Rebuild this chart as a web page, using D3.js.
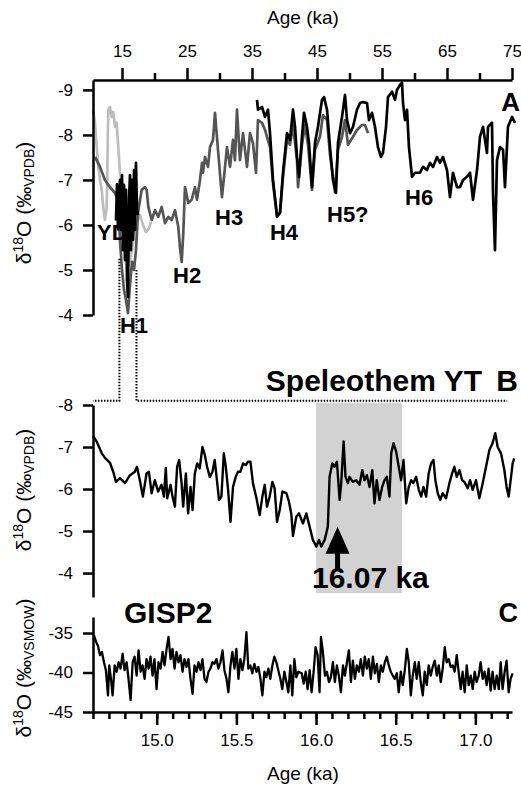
<!DOCTYPE html>
<html>
<head>
<meta charset="utf-8">
<script src="https://cdn.jsdelivr.net/npm/d3@7"></script>
<style>
  body { margin: 0; background: #fff; }
  svg { display: block; font-family: "Liberation Sans", Arial, Helvetica, sans-serif; }
  .axis path, .axis line { stroke: #000; stroke-width: 2.5; }
  .axis text { font-size: 17px; fill: #000; font-family: "Liberation Sans", Arial, sans-serif; }
  .lbl { font-weight: bold; fill: #000; }
</style>
</head>
<body>
<div id="chart"></div>
<script>
// ---- Panel A: long records (age in ka, d18O permil VPDB)
const lightAge = [10.54, 10.85, 11.11, 11.35, 11.62, 11.88, 12.12, 12.38, 12.65, 12.8,
                  12.89, 13.15, 13.42, 13.66, 13.92, 14.18, 14.43, 14.69, 14.95, 15.31,
                  15.62, 15.92, 16.23, 16.54, 16.85, 17.31, 17.77, 18.23, 18.69, 19.15, 19.46];
const lightD18O = [-8.56, -8.27, -7.73, -7.29, -7.0, -6.78, -6.4, -6.11, -6.4, -7.73,
                   -8.56, -8.62, -8.4, -8.51, -8.18, -8.27, -7.73, -7.16, -7.0, -6.56,
                   -6.0, -5.56, -5.18, -5.44, -5.78, -6.07, -6.22, -6.0, -5.84, -5.93, -6.07];

const darkAge = [10.85, 11.62, 12.38, 13.15, 13.92, 14.38, 14.69, 15.0, 15.31, 15.62,
                 15.92, 16.23, 16.54, 16.85, 17.15, 17.46, 18.03, 18.54, 18.8, 19.05,
                 19.57, 20.08, 20.58, 21.11, 21.62, 22.12, 22.65, 23.15, 23.66, 23.92,
                 24.18, 24.43, 24.69, 25.2, 25.72, 26.23, 26.54, 27.0, 27.31, 27.46,
                 27.77, 28.23, 28.54, 29.0, 29.31, 29.77, 30.38, 30.85, 31.15, 31.62,
                 32.08, 32.38, 32.69, 33.15, 33.62, 34.23, 34.69, 35.15, 35.62, 35.92,
                 36.54, 37.0, 37.77, 38.23, 38.85, 39.31, 39.77, 40.38, 40.85, 41.31,
                 41.92, 42.08, 42.69, 43.15, 43.62, 44.23, 44.69, 45.46, 45.92, 46.54,
                 47.0, 47.77, 48.23, 48.85, 49.31, 49.77, 50.54, 51.15, 51.92, 52.38,
                 52.85];
const darkD18O = [-7.51, -7.29, -7.0, -6.84, -6.71, -6.56, -5.67, -5.0, -4.56, -4.33,
                  -4.04, -4.67, -5.18, -5.0, -5.44, -6.27, -6.78, -6.84, -6.78, -6.4,
                  -6.11, -6.33, -6.18, -6.4, -6.04, -6.18, -6.11, -6.33, -5.96, -5.51,
                  -5.18, -5.82, -6.84, -6.49, -6.56, -6.84, -6.56, -7.0, -7.38, -7.16,
                  -7.51, -7.29, -7.73, -7.89, -8.49, -7.67, -6.62, -7.29, -7.73, -7.29,
                  -7.89, -7.44, -8.56, -7.44, -8.04, -7.29, -8.04, -7.82, -7.16, -8.33,
                  -8.27, -8.11, -7.73, -6.93, -6.22, -6.27, -7.07, -7.89, -7.78, -8.22,
                  -7.44, -6.84, -7.78, -8.22, -7.78, -6.78, -7.67, -7.96, -8.44, -8.33,
                  -7.56, -6.73, -7.67, -7.96, -8.33, -7.78, -7.96, -8.11, -8.22, -8.22,
                  -8.04];

const blackH1Age = [14.08, 14.23, 14.38, 14.54, 14.69, 14.85, 15.0, 15.15, 15.31, 15.46,
                    15.62, 15.77, 15.92, 16.08, 16.23, 16.38, 16.54, 16.69, 16.85, 17.0,
                    17.15, 17.31, 17.46];
const blackH1D18O = [-6.1, -6.9, -5.9, -6.56, -7.0, -5.89, -7.11, -5.44, -6.89, -5.22,
                     -6.78, -4.78, -4.4, -6.56, -7.11, -5.44, -7.0, -5.67, -7.22, -5.89,
                     -7.38, -6.33, -6.22];

const blackAge = [35.77, 35.92, 36.54, 37.0, 37.46, 37.77, 38.23, 38.85, 39.31, 39.77,
                  40.38, 40.85, 41.31, 41.62, 41.92, 42.23, 42.69, 43.0, 43.46, 43.77,
                  44.23, 44.69, 45.15, 45.77, 46.08, 46.54, 47.0, 47.46, 47.92, 48.23,
                  48.85, 49.31, 49.62, 50.08, 50.54, 51.15, 51.62, 52.08, 52.69, 53.0,
                  53.46, 53.92, 54.38, 54.85, 55.15, 55.62, 55.92, 56.54, 57.0, 57.31,
                  57.77, 58.08, 58.23, 58.54, 58.85, 59.15, 59.62, 60.08, 60.85, 61.31,
                  61.92, 62.38, 62.85, 63.46, 63.92, 64.38, 65.0, 65.46, 65.92, 66.54,
                  67.0, 67.46, 68.08, 68.54, 69.0, 69.62, 70.08, 70.54, 71.15, 71.31,
                  71.92, 72.08, 72.38, 72.69, 73.15, 73.62, 73.92, 74.38, 75.0, 75.46];
const blackD18O = [-8.78, -8.56, -8.62, -8.4, -8.56, -8.04, -7.0, -6.18, -6.27, -7.16,
                   -8.04, -7.89, -8.56, -8.18, -7.51, -7.07, -7.96, -8.49, -8.18, -7.82,
                   -6.84, -7.82, -8.18, -8.78, -8.84, -8.56, -7.73, -7.0, -6.71, -7.82,
                   -8.4, -8.89, -8.33, -8.04, -8.18, -8.56, -8.71, -8.73, -8.71, -8.33,
                   -8.49, -8.18, -7.73, -7.51, -7.6, -8.18, -8.84, -8.96, -8.78, -9.0,
                   -9.11, -9.16, -8.71, -8.33, -8.56, -7.73, -7.07, -7.16, -7.16, -7.29,
                   -7.22, -7.38, -7.29, -7.51, -7.38, -7.51, -7.22, -6.62, -7.16, -6.84,
                   -6.84, -7.0, -7.07, -7.16, -6.56, -7.22, -7.96, -8.18, -7.6, -8.18,
                   -8.27, -6.71, -5.44, -7.44, -7.73, -7.67, -6.84, -8.18, -8.4, -8.27];

const eventNames = ["YD", "H1", "H2", "H3", "H4", "H5?", "H6"];
const eventAge = [11.15, 14.69, 22.85, 29.31, 37.77, 46.54, 58.54];
const eventD18O = [-5.67, -3.6, -4.71, -6.0, -5.67, -6.07, -6.44];

// ---- Panel B: speleothem YT (age in ka, d18O permil VPDB)
const ytAge = [14.602, 14.623, 14.655, 14.675, 14.707, 14.727, 14.744, 14.769, 14.801, 14.832,
               14.863, 14.876, 14.894, 14.913, 14.936, 14.951, 14.968, 14.988, 15.009, 15.030,
               15.045, 15.057, 15.066, 15.087, 15.099, 15.114, 15.128, 15.141, 15.156, 15.166,
               15.183, 15.197, 15.212, 15.225, 15.239, 15.254, 15.270, 15.287, 15.302, 15.316,
               15.333, 15.350, 15.364, 15.379, 15.391, 15.406, 15.421, 15.433, 15.448, 15.463,
               15.479, 15.496, 15.510, 15.525, 15.542, 15.559, 15.573, 15.588, 15.604, 15.626,
               15.646, 15.663, 15.678, 15.692, 15.709, 15.726, 15.740, 15.755, 15.772, 15.789,
               15.814, 15.830, 15.845, 15.855, 15.876, 15.893, 15.918, 15.939, 15.960, 15.980,
               16.002, 16.018, 16.033, 16.054, 16.074, 16.085, 16.102, 16.116, 16.131, 16.148,
               16.158, 16.173, 16.185, 16.200, 16.210, 16.231, 16.252, 16.273, 16.290, 16.304,
               16.319, 16.336, 16.353, 16.367, 16.381, 16.398, 16.415, 16.430, 16.444, 16.461,
               16.472, 16.486, 16.503, 16.519, 16.534, 16.549, 16.566, 16.582, 16.597, 16.611,
               16.628, 16.645, 16.660, 16.674, 16.691, 16.707, 16.722, 16.737, 16.749, 16.764,
               16.779, 16.795, 16.816, 16.837, 16.854, 16.868, 16.883, 16.900, 16.917, 16.931,
               16.952, 16.967, 16.983, 17.004, 17.025, 17.046, 17.067, 17.088, 17.108, 17.125,
               17.140, 17.161, 17.182, 17.196, 17.209, 17.224, 17.234, 17.244];
const ytD18O = [-7.25, -7.13, -6.85, -6.74, -6.62, -6.41, -6.17, -6.26, -6.14, -6.33,
                -6.41, -6.53, -6.21, -5.82, -6.37, -6.41, -5.90, -6.21, -5.94, -6.10,
                -5.82, -6.50, -5.78, -6.10, -5.82, -5.58, -6.53, -6.69, -6.14, -5.58,
                -6.37, -5.42, -6.05, -5.50, -6.37, -6.61, -6.49, -7.00, -6.81, -6.53,
                -6.29, -6.41, -6.69, -6.17, -5.74, -5.82, -6.85, -6.55, -5.98, -5.22,
                -6.05, -6.29, -6.41, -6.41, -6.61, -6.57, -6.65, -6.65, -6.14, -5.78,
                -5.38, -5.82, -6.10, -5.58, -5.82, -6.17, -6.02, -5.22, -5.50, -5.94,
                -5.90, -5.70, -5.40, -4.88, -5.34, -5.42, -5.18, -5.42, -5.10, -4.79,
                -4.63, -4.79, -4.63, -4.79, -5.10, -6.29, -6.61, -6.53, -6.65, -5.74,
                -6.14, -7.13, -6.29, -6.14, -6.29, -6.17, -6.21, -6.10, -6.45, -6.21,
                -6.33, -6.05, -6.45, -5.66, -6.21, -5.74, -6.05, -6.21, -6.29, -5.82,
                -6.85, -7.09, -6.89, -6.53, -6.21, -6.69, -5.66, -6.05, -6.21, -6.14,
                -6.29, -5.98, -5.82, -6.05, -5.82, -6.37, -6.61, -6.69, -6.21, -5.90,
                -5.74, -5.90, -5.78, -6.14, -6.37, -6.53, -6.29, -6.45, -6.21, -6.17,
                -6.02, -6.21, -5.98, -6.21, -5.78, -6.14, -6.53, -6.93, -7.09, -7.33,
                -7.00, -6.85, -6.45, -6.05, -5.82, -6.29, -6.61, -6.73];

const shadeAges = [16.0, 16.54];
const arrowAge = 16.135;          // tip of the 16.07 ka arrow as drawn
const arrowTipD18O = -5.1;
const arrowEndD18O = -4.07;

// ---- Panel C: GISP2 (age in ka, d18O permil VSMOW)
const gispAge = [
  14.606, 14.619, 14.631, 14.644, 14.656, 14.669, 14.681, 14.694, 14.702, 14.715,
  14.723, 14.736, 14.748, 14.761, 14.773, 14.786, 14.798, 14.811, 14.823, 14.836,
  14.849, 14.861, 14.874, 14.886, 14.899, 14.911, 14.924, 14.936, 14.949, 14.961,
  14.974, 14.986, 14.999, 15.011, 15.024, 15.037, 15.049, 15.062, 15.074, 15.087,
  15.099, 15.112, 15.124, 15.137, 15.149, 15.162, 15.174, 15.187, 15.199, 15.212,
  15.225, 15.237, 15.250, 15.262, 15.275, 15.287, 15.300, 15.312, 15.325, 15.337,
  15.350, 15.362, 15.375, 15.387, 15.400, 15.413, 15.425, 15.438, 15.450, 15.463,
  15.475, 15.488, 15.500, 15.513, 15.525, 15.538, 15.550, 15.563, 15.575, 15.588,
  15.600, 15.613, 15.626, 15.638, 15.651, 15.663, 15.676, 15.688, 15.701, 15.713,
  15.726, 15.738, 15.751, 15.763, 15.776, 15.788, 15.801, 15.814, 15.826, 15.839,
  15.851, 15.864, 15.876, 15.889,
  15.910, 15.922, 15.935, 15.947, 15.960, 15.972, 15.985, 15.997, 16.010, 16.022,
  16.031, 16.043, 16.056, 16.068, 16.081, 16.093, 16.106, 16.118, 16.131, 16.143,
  16.156, 16.169, 16.181, 16.194, 16.206, 16.219, 16.231, 16.244, 16.256, 16.269,
  16.281, 16.294, 16.306, 16.319, 16.331, 16.344, 16.357, 16.369, 16.382, 16.394,
  16.407, 16.419, 16.432, 16.444, 16.457, 16.469, 16.482, 16.494, 16.507, 16.519,
  16.532, 16.544, 16.557, 16.570, 16.582, 16.595, 16.607, 16.620, 16.632, 16.645,
  16.657, 16.670, 16.682, 16.695, 16.707, 16.720, 16.732, 16.745, 16.758, 16.770,
  16.783, 16.795, 16.808, 16.820, 16.833, 16.845, 16.858, 16.870, 16.883, 16.895,
  16.908, 16.920, 16.933, 16.946, 16.958, 16.971, 16.983, 16.996, 17.008, 17.021,
  17.033, 17.046, 17.058, 17.071, 17.083, 17.096, 17.108, 17.121, 17.134, 17.147,
  17.159, 17.171, 17.184, 17.196, 17.209, 17.221, 17.234];
const gispD18O = [
  -35.3, -36.1, -36.6, -37.8, -37.4, -38.7, -39.7, -42.9, -39.1, -41.2,
  -42.9, -39.1, -39.9, -38.7, -39.5, -37.6, -39.7, -38.7, -40.8, -43.5,
  -38.7, -38.0, -40.4, -37.2, -39.9, -39.1, -40.8, -38.3, -39.5, -38.0,
  -40.4, -38.3, -42.1, -38.7, -39.5, -37.4, -39.1, -37.0, -35.5, -38.3,
  -37.0, -39.5, -37.4, -38.7, -37.8, -39.9, -38.3, -39.3, -38.3, -40.8,
  -42.7, -39.1, -39.9, -38.7, -39.7, -38.3, -40.8, -41.2, -39.9, -39.5,
  -38.7, -38.9, -38.3, -39.5, -38.7, -37.2, -39.7, -40.8, -42.5, -39.1,
  -37.4, -39.5, -37.0, -40.8, -38.3, -39.7, -38.3, -34.9, -39.5, -39.1,
  -40.1, -38.9, -39.9, -39.3, -40.8, -42.9, -39.9, -40.6, -39.5, -40.8,
  -39.1, -38.0, -38.7, -39.7, -40.8, -42.1, -39.9, -41.2, -42.5, -39.1,
  -42.9, -38.3, -40.6, -39.9,
  -40.1, -41.4, -39.9, -42.1, -39.7, -42.5, -39.9, -36.8, -37.8, -42.5,
  -35.5, -37.4, -40.4, -39.9, -41.2, -40.6, -38.7, -41.2, -39.1, -40.4,
  -42.5, -39.1, -40.4, -38.7, -37.2, -41.2, -38.5, -40.8, -39.1, -39.9,
  -38.3, -40.4, -38.0, -39.5, -38.3, -40.8, -38.0, -40.1, -38.9, -41.2,
  -39.1, -39.9, -38.7, -38.0, -39.1, -39.9, -40.4, -40.8, -40.1, -42.5,
  -39.9, -41.6, -39.7, -37.0, -38.7, -42.9, -40.4, -38.7, -40.8, -38.7,
  -41.2, -42.9, -39.9, -41.6, -39.1, -40.4, -39.3, -38.5, -40.4, -39.1,
  -41.2, -39.5, -36.8, -38.7, -38.3, -39.3, -39.1, -39.9, -37.8, -39.9,
  -42.1, -39.9, -42.5, -39.1, -41.6, -40.4, -42.1, -39.9, -41.2, -40.4,
  -38.7, -40.8, -39.9, -41.6, -39.5, -42.3, -39.9, -42.1, -40.4, -42.1,
  -38.7, -42.1, -39.9, -38.5, -42.5, -40.8, -40.1];

// ---- ticks
const topTicks = [15, 25, 35, 45, 55, 65, 75];
const topMinor = [20, 30, 40, 50, 60, 70];
const aTicks = [-9, -8, -7, -6, -5, -4];
const bTicks = [-8, -7, -6, -5, -4];
const cTicks = [-35, -40, -45];
const bottomTicks = [15.0, 15.5, 16.0, 16.5, 17.0];

const W = 521, H = 788;
const svg = d3.select("#chart").append("svg").attr("width", W).attr("height", H);

// scales
const xA = d3.scaleLinear().domain([10.54, 75]).range([93, 512]);
const yA = d3.scaleLinear().domain([-9.22, -4]).range([80, 315]);
const xB = d3.scaleLinear().domain([14.6, 17.23]).range([93, 512]);
const yB = d3.scaleLinear().domain([-8, -3.43]).range([405, 597]);
const yC = d3.scaleLinear().domain([-45, -32.97]).range([712, 617]);

const plain = d => String(d);   // hyphen minus like the original

function drawLine(x, y, ages, vals, color, width) {
  const line = d3.line().x(d => x(d[0])).y(d => y(d[1]));
  svg.append("path")
    .datum(d3.zip(ages, vals))
    .attr("d", line)
    .attr("fill", "none")
    .attr("stroke", color)
    .attr("stroke-width", width)
    .attr("stroke-linejoin", "round");
}

// shaded interval in B
svg.append("rect")
  .attr("x", xB(shadeAges[0]))
  .attr("width", xB(shadeAges[1]) - xB(shadeAges[0]))
  .attr("y", yB(-8.05))
  .attr("height", yB(-3.52) - yB(-8.05))
  .attr("fill", "#d2d2d2");

// panel A records
drawLine(xA, yA, lightAge, lightD18O, "#bdbdbd", 2.7);
drawLine(xA, yA, darkAge, darkD18O, "#555", 2.7);
drawLine(xA, yA, blackH1Age, blackH1D18O, "#000", 2.7);
drawLine(xA, yA, blackAge, blackD18O, "#000", 2.7);

// panel B and C
drawLine(xB, yB, ytAge, ytD18O, "#000", 2.4);
drawLine(xB, yC, gispAge, gispD18O, "#000", 2.3);

// dotted zoom connectors from A to B
const linkY = yB(-8.1);
svg.append("path")
  .attr("d", `M${xA(14.6)},${yA(-5.25)}V${linkY}H${xB(14.6)}`)
  .attr("fill", "none").attr("stroke", "#000").attr("stroke-width", 2)
  .attr("stroke-dasharray", "1.5,1.5");
svg.append("path")
  .attr("d", `M${xA(17.23)},${yA(-5.0)}V${linkY}H${xB(17.2)}`)
  .attr("fill", "none").attr("stroke", "#000").attr("stroke-width", 2)
  .attr("stroke-dasharray", "1.5,1.5");

// axes
svg.append("g").attr("class", "axis").attr("transform", "translate(0,80)")
  .call(d3.axisTop(xA).tickValues(topTicks).tickSize(12).tickSizeOuter(0).tickPadding(11).tickFormat(plain));
svg.append("g").attr("class", "axis").attr("transform", "translate(0,80)")
  .call(d3.axisTop(xA).tickValues(topMinor).tickSize(7).tickFormat(""))
  .select(".domain").remove();

svg.append("g").attr("class", "axis").attr("transform", "translate(93,0)")
  .call(d3.axisLeft(yA).tickValues(aTicks).tickSize(10).tickSizeOuter(0).tickPadding(10).tickFormat(plain));
svg.append("g").attr("class", "axis").attr("transform", "translate(93,0)")
  .call(d3.axisLeft(yB).tickValues(bTicks).tickSize(10).tickSizeOuter(0).tickPadding(10).tickFormat(plain));
svg.append("g").attr("class", "axis").attr("transform", "translate(93,0)")
  .call(d3.axisLeft(yC).tickValues(cTicks).tickSize(10).tickSizeOuter(0).tickPadding(10).tickFormat(plain));

svg.append("g").attr("class", "axis").attr("transform", "translate(0,712)")
  .call(d3.axisBottom(xB).tickValues(bottomTicks).tickSize(13).tickSizeOuter(0).tickPadding(9).tickFormat(d3.format(".1f")));
svg.append("g").attr("class", "axis").attr("transform", "translate(0,712)")
  .call(d3.axisBottom(xB).tickValues(d3.range(14.6, 17.25, 0.1)).tickSize(7).tickFormat(""))
  .select(".domain").remove();

// axis titles
svg.append("text").attr("x", 303).attr("y", 24).attr("text-anchor", "middle")
  .style("font-size", "19px").text("Age (ka)");
svg.append("text").attr("x", 303).attr("y", 780).attr("text-anchor", "middle")
  .style("font-size", "19px").text("Age (ka)");

function yTitle(cy, sub) {
  const t = svg.append("text")
    .attr("transform", `translate(31,${cy}) rotate(-90)`)
    .attr("text-anchor", "middle")
    .style("font-size", "21px");
  t.append("tspan").text("δ");
  t.append("tspan").style("font-size", "14px").attr("dy", -8).text("18");
  t.append("tspan").attr("dy", 8).text("O (‰");
  t.append("tspan").style("font-size", "14px").attr("dy", 3).text(sub);
  t.append("tspan").attr("dy", -3).text(")");
}
yTitle(203, "VPDB");
yTitle(490, "VPDB");
yTitle(668, "VSMOW");

// event labels in A
svg.selectAll("text.ev").data(eventNames).enter().append("text")
  .attr("class", "ev lbl")
  .attr("x", (d, i) => xA(eventAge[i]))
  .attr("y", (d, i) => yA(eventD18O[i]))
  .style("font-size", "22px")
  .text(d => d);

// panel letters and titles
svg.append("text").attr("class", "lbl").attr("x", 520).attr("y", 111)
  .attr("text-anchor", "end").style("font-size", "26px").text("A");
svg.append("text").attr("class", "lbl").attr("x", 482).attr("y", 391)
  .attr("text-anchor", "end").style("font-size", "30px").text("Speleothem YT");
svg.append("text").attr("class", "lbl").attr("x", 518).attr("y", 391)
  .attr("text-anchor", "end").style("font-size", "30px").text("B");
svg.append("text").attr("class", "lbl").attr("x", 518).attr("y", 622)
  .attr("text-anchor", "end").style("font-size", "27px").text("C");
svg.append("text").attr("class", "lbl").attr("x", 124).attr("y", 623)
  .style("font-size", "30px").text("GISP2");

// 16.07 ka arrow
const ax = xB(arrowAge), tipY = yB(arrowTipD18O), endY = yB(arrowEndD18O);
svg.append("line").attr("x1", ax).attr("x2", ax).attr("y1", tipY + 20).attr("y2", endY)
  .attr("stroke", "#000").attr("stroke-width", 5);
svg.append("path")
  .attr("d", `M${ax},${tipY}L${ax - 12},${tipY + 27}L${ax + 12},${tipY + 27}Z`)
  .attr("fill", "#000");
svg.append("text").attr("class", "lbl").attr("x", 312).attr("y", 588)
  .style("font-size", "30px").text("16.07 ka");
</script>
</body>
</html>
